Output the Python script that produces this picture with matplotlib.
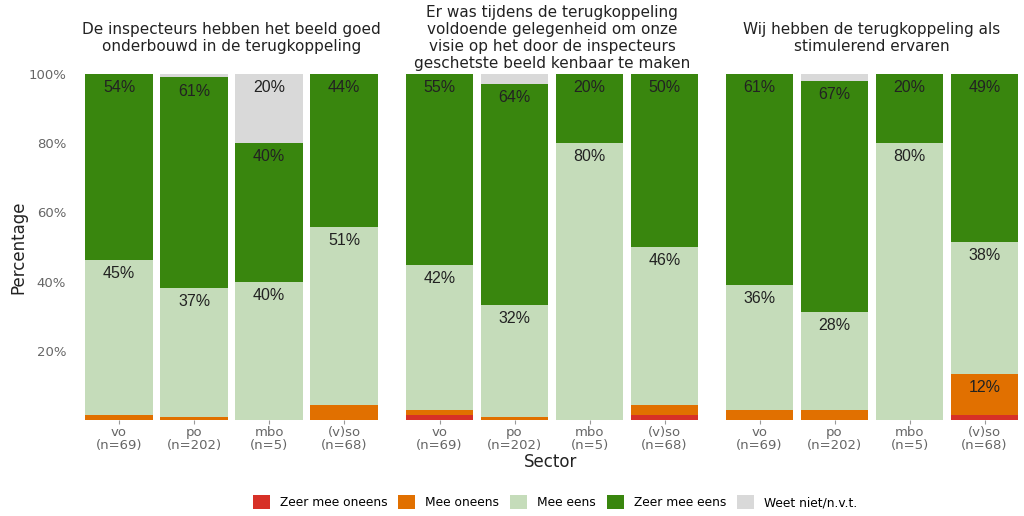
import numpy as np
import matplotlib.pyplot as plt
from matplotlib.patches import Patch

# --- DATA ---
sectoren = ['vo\n(n=69)', 'po\n(n=202)', 'mbo\n(n=5)', '(v)so\n(n=68)']
categorieen = ['Zeer mee oneens', 'Mee oneens', 'Mee eens', 'Zeer mee eens', 'Weet niet/n.v.t.']
kleuren = ['#d73027', '#e17000', '#c5dcba', '#39860e', '#d9d9d9']

titels = [
    'De inspecteurs hebben het beeld goed\nonderbouwd in de terugkoppeling',
    'Er was tijdens de terugkoppeling\nvoldoende gelegenheid om onze\nvisie op het door de inspecteurs\ngeschetste beeld kenbaar te maken',
    'Wij hebben de terugkoppeling als\nstimulerend ervaren',
]

# percentages per vraag: [zeer oneens, oneens, eens, zeer eens, weet niet] per sector
q1_zeer_oneens = [0.0, 0.0, 0.0, 0.0]
q1_oneens = [1.4, 1.0, 0.0, 4.4]
q1_eens = [44.9, 37.1, 40.0, 51.4]
q1_zeer_eens = [53.7, 60.9, 40.0, 44.2]
q1_weet_niet = [0.0, 1.0, 20.0, 0.0]

q2_zeer_oneens = [1.4, 0.0, 0.0, 1.5]
q2_oneens = [1.4, 1.0, 0.0, 2.9]
q2_eens = [42.1, 32.2, 80.0, 45.6]
q2_zeer_eens = [55.1, 63.9, 20.0, 50.0]
q2_weet_niet = [0.0, 2.9, 0.0, 0.0]

q3_zeer_oneens = [0.0, 0.0, 0.0, 1.5]
q3_oneens = [2.9, 3.0, 0.0, 11.8]
q3_eens = [36.2, 28.2, 80.0, 38.1]
q3_zeer_eens = [60.9, 66.8, 20.0, 48.6]
q3_weet_niet = [0.0, 2.0, 0.0, 0.0]

vragen = [
    [q1_zeer_oneens, q1_oneens, q1_eens, q1_zeer_eens, q1_weet_niet],
    [q2_zeer_oneens, q2_oneens, q2_eens, q2_zeer_eens, q2_weet_niet],
    [q3_zeer_oneens, q3_oneens, q3_eens, q3_zeer_eens, q3_weet_niet],
]

yticks = [20, 40, 60, 80, 100]
ytick_labels = ['20%', '40%', '60%', '80%', '100%']

# --- FIGUUR ---
fig = plt.figure(figsize=(10.24, 5.16), dpi=100)
plt.rcParams['font.family'] = 'DejaVu Sans'

lefts = [0.0796, 0.3926, 0.7051]
bottom, hoogte, breedte = 0.186, 0.671, 0.293
x = np.arange(len(sectoren))

for i, (data, titel) in enumerate(zip(vragen, titels)):
    ax = fig.add_axes([lefts[i], bottom, breedte, hoogte])
    basis = np.zeros(len(sectoren))
    for waarden, kleur in zip(data, kleuren):
        waarden = np.array(waarden)
        ax.bar(x, waarden, bottom=basis, width=0.9, color=kleur, linewidth=0)
        for xi, b, w in zip(x, basis, waarden):
            if w >= 10:
                ax.text(xi, b + w - 4.0, f'{w:.0f}%', ha='center', va='center',
                        fontsize=11.5, family='Liberation Sans', color='#222222')
        basis += waarden

    ax.set_xlim(-0.5, 3.5)
    ax.set_ylim(0, 100)
    ax.set_xticks(x)
    ax.set_xticklabels(sectoren, fontsize=9.5, color='#666666', linespacing=1.05)
    ax.tick_params(axis='x', length=3, color='#999999', pad=1)
    if i == 0:
        ax.set_yticks(yticks)
        ax.set_yticklabels(ytick_labels, fontsize=9.5, color='#666666')
        ax.tick_params(axis='y', length=0, pad=11)
    else:
        ax.set_yticks([])
    for s in ax.spines.values():
        s.set_visible(False)
    # titels verticaal gecentreerd boven de panelen
    fig.text(lefts[i] + breedte / 2, 0.926, titel, ha='center', va='center',
             fontsize=11, color='#222222', linespacing=1.15)

fig.text(0.538, 0.105, 'Sector', ha='center', va='center', fontsize=12, color='#222222')
fig.text(0.018, 0.52, 'Percentage', ha='center', va='center', rotation=90, fontsize=12, color='#222222')

handles = [Patch(facecolor=k, edgecolor='none') for k in kleuren]
fig.legend(handles, categorieen, loc='center', bbox_to_anchor=(0.542, 0.027), ncol=5,
           frameon=False, fontsize=8.8, handlelength=1.4, handleheight=1.4,
           columnspacing=0.9, handletextpad=0.8)

fig.savefig('out.png', dpi=100)
